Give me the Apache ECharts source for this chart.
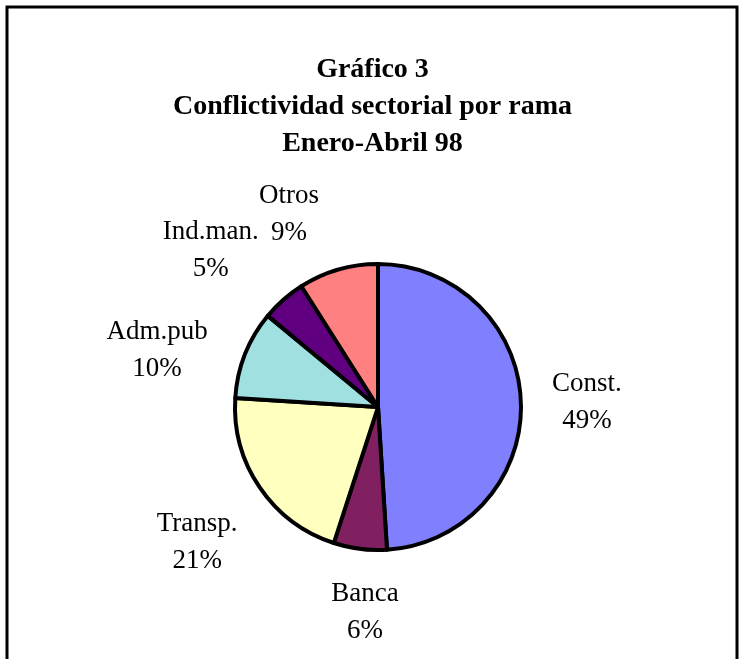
<!DOCTYPE html>
<html>
<head>
<meta charset="utf-8">
<script src="https://cdn.jsdelivr.net/npm/echarts@6/dist/echarts.min.js"></script>
<style>
html,body{margin:0;padding:0;background:#fff;}
#chart{width:745px;height:659px;}
</style>
</head>
<body>
<div id="chart"></div>
<script>
// ---- data ----
const titleLines = ['Gráfico 3', 'Conflictividad sectorial por rama', 'Enero-Abril 98'];
const categories = ['Const.', 'Banca', 'Transp.', 'Adm.pub', 'Ind.man.', 'Otros'];
const values = [49, 6, 21, 10, 5, 9];

// ---- styles ----
const colors = ['#8080FF', '#802060', '#FFFFC0', '#A0E0E0', '#600080', '#FF8080'];
const labelNudge = [[-6, 2], [14, -8], [-3, 15], [-21, 23], [-25, 5], [-29, 14]];
const center = [378, 407];

const chart = echarts.init(document.getElementById('chart'), null, {renderer: 'canvas'});

const pieData = categories.map((c, i) => ({name: c, value: values[i], itemStyle: {color: colors[i]}}));

chart.setOption({
  backgroundColor: '#ffffff',
  animation: false,
  title: {
    text: titleLines.join('\n'),
    left: 'center',
    top: 51,
    padding: 0,
    textStyle: {
      fontFamily: 'Liberation Serif',
      fontWeight: 'bold',
      fontSize: 28,
      lineHeight: 37,
      color: '#000'
    }
  },
  graphic: [{
    type: 'polyline',
    shape: {points: [[7, 700], [7, 7], [737, 7], [737, 700]]},
    style: {stroke: '#000', lineWidth: 3, fill: null},
    silent: true
  }],
  series: [{
    type: 'pie',
    center: center,
    radius: 143,
    startAngle: 90,
    clockwise: true,
    silent: true,
    label: {show: false},
    labelLine: {show: false},
    itemStyle: {borderColor: '#000', borderWidth: 4},
    data: pieData
  }, {
    type: 'pie',
    center: center,
    radius: [202, 222],
    startAngle: 90,
    clockwise: true,
    silent: true,
    itemStyle: {color: 'rgba(0,0,0,0)', borderWidth: 0},
    label: {
      show: true,
      position: 'inside',
      formatter: '{b}\n{d}%',
      fontFamily: 'Liberation Serif',
      fontSize: 27,
      lineHeight: 37,
      color: '#000',
      align: 'center'
    },
    labelLine: {show: false},
    labelLayout: function (p) {
      const n = labelNudge[p.dataIndex];
      return {dx: n[0], dy: n[1]};
    },
    data: categories.map((c, i) => ({name: c, value: values[i]}))
  }]
});
</script>
</body>
</html>
